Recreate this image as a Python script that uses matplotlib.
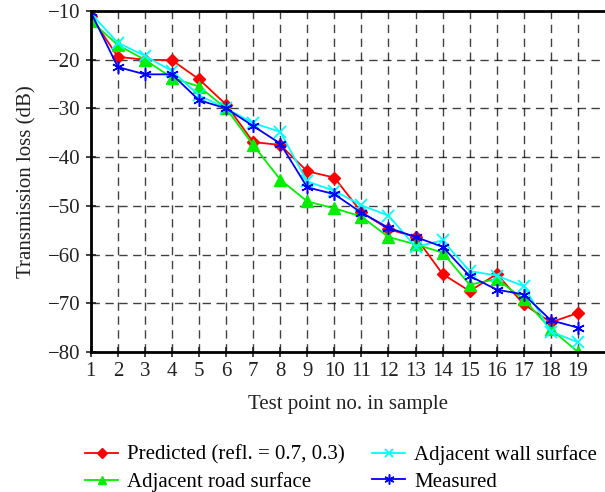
import numpy as np
import matplotlib
matplotlib.use("Agg")
import matplotlib.pyplot as plt

plt.rcParams["font.family"] = ["Liberation Serif", "DejaVu Serif"]

# test point numbers
points = list(range(1, 20))

# transmission loss (dB)
predicted = [-11.0, -19.4, -20.0, -20.1, -24.0, -29.2, -36.9, -37.5, -42.9, -44.2,
             -51.3, -54.8, -56.4, -64.0, -67.5, -64.0, -70.2, -73.9, -72.0]
road = [-12.0, -17.0, -20.0, -23.7, -25.5, -30.0, -37.5, -44.6, -49.1, -50.5,
        -52.2, -56.4, -57.9, -59.6, -66.2, -65.0, -69.2, -75.3, -80.0]
wall = [-10.5, -16.5, -19.2, -22.3, -27.3, -30.0, -33.0, -34.8, -45.0, -46.9,
        -49.9, -52.0, -58.4, -57.1, -63.4, -64.3, -66.5, -75.8, -78.0]
measured = [-10.2, -21.5, -23.0, -23.0, -28.3, -30.0, -33.6, -37.2, -46.2, -47.6,
            -51.4, -54.5, -56.4, -58.4, -64.4, -67.2, -68.2, -73.5, -75.0]

yticks = [-80, -70, -60, -50, -40, -30, -20, -10]

fig = plt.figure(figsize=(6.05, 4.92), dpi=100)
ax = fig.add_axes([0.150, 0.2846, 0.85, 0.693])

ax.plot(points, predicted, color="#ff0000", linewidth=1.3, marker="D", markersize=6,
        label="Predicted (refl. = 0.7, 0.3)")
ax.plot(points, road, color="#00ee00", linewidth=1.3, marker="^", markersize=8,
        label="Adjacent road surface")
ax.plot(points, wall, color="#00ffff", linewidth=1.3, marker="x", markersize=8,
        markeredgewidth=1.3, label="Adjacent wall surface")
ax.plot(points, measured, color="#0000ff", linewidth=1.3, marker=(6, 2, 0), markersize=9,
        markeredgewidth=1.1, label="Measured")

ax.set_xlim(1, 20)
ax.set_ylim(-80, -10)
ax.set_xticks(points)
ax.set_yticks(yticks)
ax.tick_params(direction="inout", length=7, width=1.2, labelsize=15, colors="#222222",
               pad=4)
ax.grid(True, color="black", linestyle=(0, (6, 4)), linewidth=1.0, alpha=0.75)
ax.set_axisbelow(True)
for side in ["left", "bottom", "top"]:
    ax.spines[side].set_linewidth(2)
ax.spines["right"].set_visible(False)

ax.set_xlabel("Test point no. in sample", fontsize=15, color="#222222", labelpad=10)
ax.set_ylabel("Transmission loss (dB)", fontsize=15, color="#222222", labelpad=8)

handles, labels = ax.get_legend_handles_labels()
fig.legend(handles, labels, ncol=2, loc="upper left",
           bbox_to_anchor=(85 / 605, 1 - 445 / 492),
           frameon=False, fontsize=15, borderpad=0, borderaxespad=0,
           handlelength=1.6, handletextpad=0.42, columnspacing=1.3,
           labelspacing=0.35, markerscale=0.8)

fig.savefig("out.png", dpi=100)
